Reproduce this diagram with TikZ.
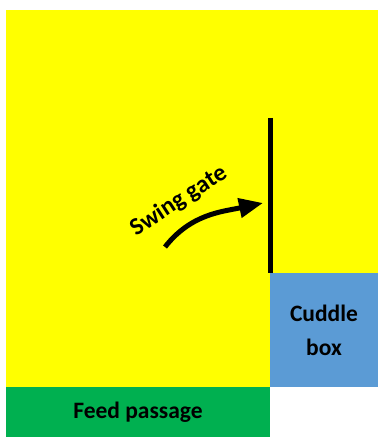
\documentclass[tikz,border=0pt]{standalone}
\usepackage{fontspec}
\setmainfont{Carlito}
\usetikzlibrary{arrows.meta, positioning}
\definecolor{cYellow}{HTML}{FFFF00}
\definecolor{cBlue}{HTML}{5B9BD5}
\definecolor{cGreen}{HTML}{00B050}

\begin{document}
\begin{tikzpicture}[x=1pt, y=1pt,
    area/.style={inner sep=0pt, outer sep=0pt, draw=none, anchor=north west},
    lbl/.style={font=\fontsize{23.5}{34}\selectfont\bfseries, align=center}]
  \useasboundingbox (0,0) rectangle (379,437);

  % Pen, feed passage and cuddle box
  \node[area, fill=cYellow, minimum width=372pt, minimum height=377pt] (pen) at (6,427) {};
  \node[area, fill=cGreen, minimum width=264pt, minimum height=50pt] (feed) at (6,50) {};
  \node[area, fill=cBlue, minimum width=108pt, minimum height=114pt] (cuddle) at (270,164) {};
  \node[lbl] at (feed.center) {Feed passage};
  \node[lbl] at (cuddle.center) {Cuddle\\box};

  % Swing gate
  \coordinate (gatetop) at (270,319);
  \coordinate (gatebot) at (270,164);
  \draw[line width=5pt] (gatetop) -- (gatebot);

  \coordinate (swingfrom) at (165,190);
  \coordinate (swingto) at (263,234);
  \draw[line width=5pt, -{Triangle[length=24pt, width=19pt]}]
    (swingfrom) to[out=52, in=192] (swingto);
  \node[lbl, font=\fontsize{24.5}{30}\selectfont\bfseries, rotate=33] (swinglbl) at (179,236) {Swing gate};
\end{tikzpicture}
\end{document}
